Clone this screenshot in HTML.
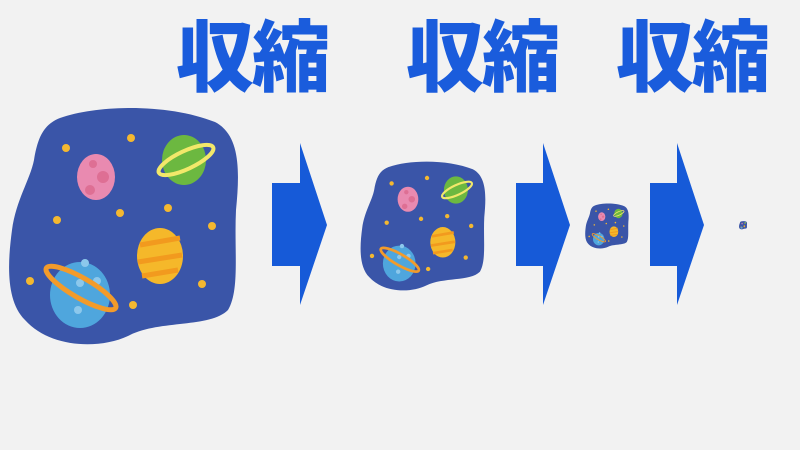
<!DOCTYPE html>
<html><head><meta charset="utf-8"><style>
body{margin:0;width:800px;height:450px;background:#f2f2f2;overflow:hidden;position:relative}
.t{position:absolute;top:2px;font-family:"Noto Sans CJK JP","Noto Sans CJK SC",sans-serif;font-weight:900;font-size:78px;color:#1a5cdc;line-height:100px;letter-spacing:-2px}
svg{position:absolute;left:0;top:0}
</style></head><body>
<div class="t" style="left:176px">収縮</div>
<div class="t" style="left:406px">収縮</div>
<div class="t" style="left:616px">収縮</div>
<svg width="800" height="450" viewBox="0 0 800 450">
<defs>
<g id="u">
<path d="M60,118 C100,104 170,104 215,122 C240,135 240,170 236,210 C234,250 240,290 228,310 C210,328 160,320 130,335 C100,350 50,348 25,320 C5,300 8,260 12,230 C16,200 30,180 34,160 C38,135 45,124 60,118 Z" fill="#3a55a8"/>
<ellipse cx="96" cy="177" rx="19" ry="23" fill="#e98ab0"/>
<circle cx="103" cy="177" r="6" fill="#de6f94"/><circle cx="90" cy="190" r="5" fill="#de6f94"/><circle cx="93" cy="164" r="4" fill="#de6f94"/>
<ellipse cx="184" cy="160" rx="22" ry="25" fill="#6cb840"/>
<ellipse cx="186" cy="160" rx="30" ry="9" fill="none" stroke="#f2e86a" stroke-width="4" transform="rotate(-25 186 160)"/>
<ellipse cx="160" cy="256" rx="23" ry="28" fill="#f5b82a"/>
<path d="M140,245 L180,238 M138,262 L182,255 M142,276 L178,270" stroke="#f29a1e" stroke-width="5"/>
<ellipse cx="80" cy="295" rx="30" ry="33" fill="#4fa6dd"/>
<circle cx="85" cy="263" r="4" fill="#8cc8ec"/><circle cx="97" cy="281" r="4" fill="#8cc8ec"/><circle cx="80" cy="283" r="4" fill="#8cc8ec"/><circle cx="78" cy="310" r="4" fill="#8cc8ec"/>
<ellipse cx="81" cy="288" rx="40" ry="10" fill="none" stroke="#f39b2a" stroke-width="5" transform="rotate(30 81 288)"/>
<g fill="#f4b830">
<circle cx="66" cy="148" r="4"/><circle cx="131" cy="138" r="4"/><circle cx="57" cy="220" r="4"/><circle cx="120" cy="213" r="4"/><circle cx="168" cy="208" r="4"/><circle cx="212" cy="226" r="4"/><circle cx="30" cy="281" r="4"/><circle cx="202" cy="284" r="4"/><circle cx="133" cy="305" r="4"/>
</g>
</g>
</defs>
<use href="#u"/>
<g transform="translate(360,160) scale(0.545) translate(-8,-105)"><use href="#u"/></g>
<g transform="translate(585,203) scale(0.19) translate(-8,-105)"><use href="#u"/></g>
<g transform="translate(739,221) scale(0.035) translate(-8,-105)"><use href="#u"/></g>
<g fill="#165ad8">
<path d="M272,183 H300 V143 L327,225 L300,305 V266 H272 Z"/>
<path d="M516,183 H543 V143 L570,225 L543,305 V266 H516 Z"/>
<path d="M650,183 H677 V143 L704,225 L677,305 V266 H650 Z"/>
</g>
</svg>
</body></html>
